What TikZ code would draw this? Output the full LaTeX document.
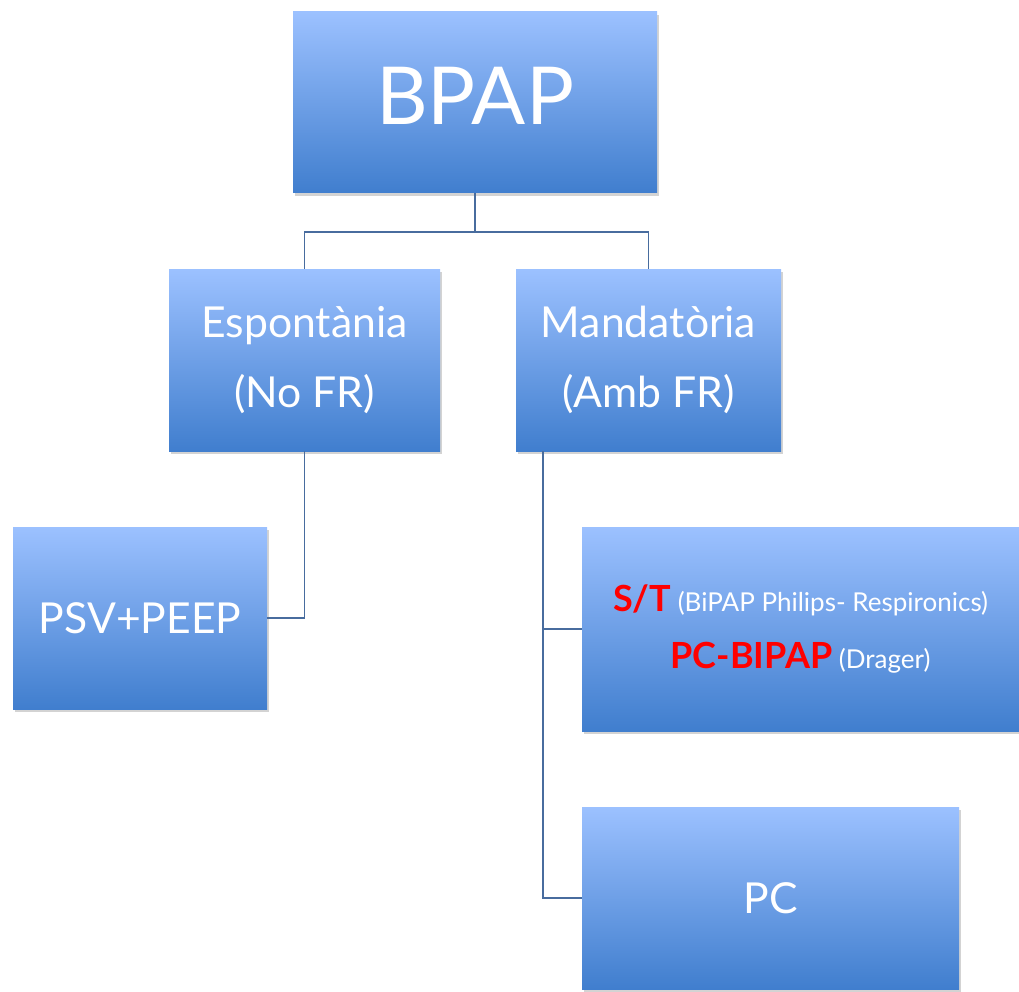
\documentclass[tikz,border=0pt]{standalone}
\usepackage{fontspec}
\setmainfont{Lato}
\usetikzlibrary{calc,positioning,shadows}
\definecolor{boxTop}{RGB}{156,193,255}
\definecolor{boxBottom}{RGB}{64,126,206}
\definecolor{linkBlue}{RGB}{72,108,158}
\definecolor{modeRed}{RGB}{255,0,0}
\tikzset{
myBox/.style={
	rectangle, top color=boxTop, bottom color=boxBottom,
	inner sep=0pt, text=white, align=center,
	drop shadow={opacity=0.35, shadow xshift=1.5pt, shadow yshift=-2pt}
}
, myBig/.style={font=\fontsize{60}{66}\selectfont}
, myMid/.style={font=\fontsize{32}{52}\selectfont}
% link
, myLink/.style={draw=linkBlue, line width=1.2pt}
}
\newcommand{\modename}[1]{{\color{modeRed}\bfseries\fontsize{27}{30}\selectfont #1}}
\newcommand{\modenote}[1]{{\fontsize{19.5}{22}\selectfont #1}}

\begin{document}
\begin{tikzpicture}[x=0.75pt,y=-0.75pt]
	\useasboundingbox (0,0) rectangle (1019,991);
	% nodes
	\node[myBox,minimum width=273pt,minimum height=135.75pt] (bpap) at (475,102.5) {};
	\node[text=white,myBig,inner sep=0pt] (bpaplabel) at (475,96) {BPAP};
	\node[myBox,myMid,minimum width=203.25pt,minimum height=136.5pt] (esp) at (304.5,360) {Espontània\\(No FR)};
	\node[myBox,myMid,minimum width=198.75pt,minimum height=136.5pt] (man) at (648.5,360) {Mandatòria\\(Amb FR)};
	\node[myBox,myMid,minimum width=190.5pt,minimum height=136.5pt] (psv) at (140,618) {PSV+PEEP};
	\node[myBox,minimum width=327.75pt,minimum height=153pt] (st) at (800.5,629)
		{\modename{S/T}\enspace\modenote{(BiPAP Philips- Respironics)}\\[18pt]\modename{PC-BIPAP}\enspace\modenote{(Drager)}};
	\node[myBox,myMid,minimum width=282.75pt,minimum height=136.5pt] (pc) at (770.5,898) {PC};
	\coordinate (manfoot) at (543,451);

	% links
	\draw [myLink] (bpap.south) -- ++(0,39) -| (esp.north);
	\draw [myLink] (bpap.south) -- ++(0,39) -| (man.north);
	\draw [myLink] (esp.south) |- (psv.east);
	\draw [myLink] (manfoot) |- (st.west);
	\draw [myLink] (manfoot) |- (pc.west);
\end{tikzpicture}
\end{document}
